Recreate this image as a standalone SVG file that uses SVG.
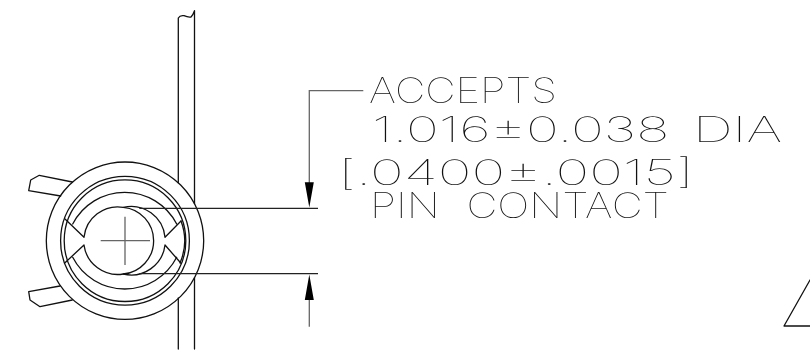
<svg xmlns="http://www.w3.org/2000/svg" width="810" height="350" viewBox="0 0 810 350">
<style>
.l{fill:none;stroke:#111;stroke-width:1.3;stroke-linejoin:round;stroke-linecap:round}
.d{fill:none;stroke:#222;stroke-width:1.2}
.g{fill:none;stroke:#666;stroke-width:1.3}
.h{fill:#000;stroke:none}
text{font-family:"Inter","Liberation Sans",sans-serif;font-weight:100;fill:#111;font-size:35px}
</style>
<defs>
<filter id="gray" filterUnits="userSpaceOnUse" x="0" y="0" width="810" height="350" color-interpolation-filters="sRGB"><feOffset dx="0" dy="0"/></filter>
</defs>
<rect width="810" height="350" fill="#fff"/>
<g id="wall">
<path class="l" d="M178.3 182.7V18Q180 15 184 15.700Q188 17.500 191 17Q193 15 194.500 10.700V203.700M194.500 277.700V349M178.300 298V349"/>
</g>
<g id="connector-body">
<circle class="l" cx="125" cy="240.700" r="78.700"/>
<circle class="l" cx="125" cy="240.700" r="64.400"/>
<circle class="l" cx="125" cy="240.700" r="60.800"/>
<path class="l" d="M72.300 182L39.300 175.300L30.700 180L28.700 190.700L60.700 196"/>
<path class="l" d="M60 286L28.700 291.700L30 300L40 306.700L72.300 300"/>
<path class="l" d="M65 219L84 237.300A34 34 0 0 1 123.300 207.300A33.500 33.500 0 0 1 123.300 274A34 34 0 0 1 84 245L65 262.700"/>
<path class="l" d="M181 221L165 237.300A34 34 0 0 0 123.300 207.300M123.300 274A34 34 0 0 0 165 245L181 263.300"/>
<path class="l" d="M72.700 224A58.500 58.500 0 0 1 176.700 224M72.700 257.300A58.500 58.500 0 0 0 176.700 257.300"/>
<path class="l" d="M181 221A56 56 0 0 1 180 263"/>
<path class="g" d="M100.700 240.700H150M125 216.700V265"/>
</g>
<g id="connectors">
<path class="d" d="M139.300 208.300H318M139.300 273.700H318"/>
<path class="g" d="M363.300 90.700H309.300V184M309.300 298V326.700"/>
<path class="h" d="M304.800 182.300H313.800L309.300 207.500ZM304.800 300H313.800L309.300 274.500Z"/>
</g>
<g id="triangle">
<path class="l" d="M810 280L784 326H810"/>
</g>
<g id="label" filter="url(#gray)">
<text x="369" y="103.300" textLength="188" lengthAdjust="spacingAndGlyphs">ACCEPTS</text>
<text x="372" y="141.700" textLength="410" lengthAdjust="spacingAndGlyphs" word-spacing="5">1.016±0.038 DIA</text>
<text x="338" y="185" textLength="356" lengthAdjust="spacingAndGlyphs">[.0400±.0015]</text>
<text x="370" y="218.300" textLength="299" lengthAdjust="spacingAndGlyphs" word-spacing="12">PIN CONTACT</text>
</g>
</svg>
